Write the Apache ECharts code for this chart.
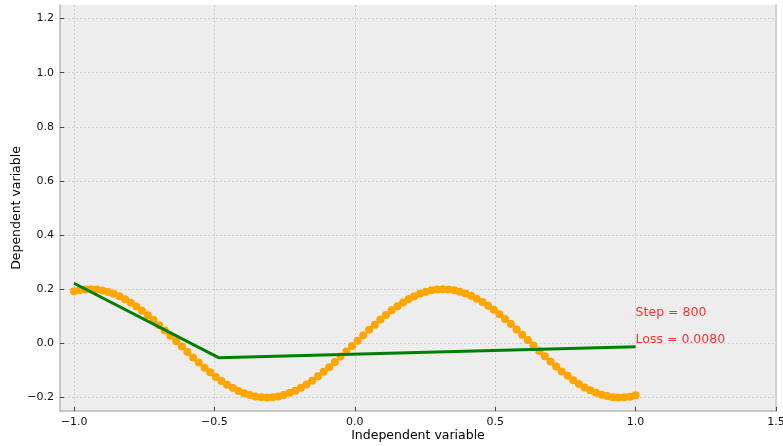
<!DOCTYPE html>
<html>
<head>
<meta charset="utf-8">
<script src="https://cdn.jsdelivr.net/npm/echarts@6/dist/echarts.min.js"></script>
<style>
  html, body { margin: 0; padding: 0; background: #fff; }
  #chart { width: 783px; height: 446px; }
</style>
</head>
<body>
<div id="chart"></div>
<script>
// scatter samples (x, y)
const pointX = [
  -1.000, -0.980, -0.960, -0.939, -0.919, -0.899, -0.879, -0.859, -0.838, -0.818,
  -0.798, -0.778, -0.758, -0.737, -0.717, -0.697, -0.677, -0.657, -0.636, -0.616,
  -0.596, -0.576, -0.556, -0.535, -0.515, -0.495, -0.475, -0.455, -0.434, -0.414,
  -0.394, -0.374, -0.354, -0.333, -0.313, -0.293, -0.273, -0.253, -0.232, -0.212,
  -0.192, -0.172, -0.152, -0.131, -0.111, -0.091, -0.071, -0.051, -0.030, -0.010,
  0.010, 0.030, 0.051, 0.071, 0.091, 0.111, 0.131, 0.152, 0.172, 0.192,
  0.212, 0.232, 0.253, 0.273, 0.293, 0.313, 0.333, 0.354, 0.374, 0.394,
  0.414, 0.434, 0.455, 0.475, 0.495, 0.515, 0.535, 0.556, 0.576, 0.596,
  0.616, 0.636, 0.657, 0.677, 0.697, 0.717, 0.737, 0.758, 0.778, 0.798,
  0.818, 0.838, 0.859, 0.879, 0.899, 0.919, 0.939, 0.960, 0.980, 1.000
]
const pointY = [
  0.192, 0.197, 0.199, 0.200, 0.199, 0.195, 0.190, 0.183, 0.174, 0.163,
  0.150, 0.136, 0.120, 0.104, 0.086, 0.067, 0.047, 0.028, 0.008, -0.012,
  -0.032, -0.052, -0.071, -0.090, -0.107, -0.124, -0.139, -0.153, -0.165, -0.176,
  -0.184, -0.191, -0.196, -0.199, -0.200, -0.199, -0.196, -0.191, -0.183, -0.175,
  -0.164, -0.152, -0.138, -0.122, -0.105, -0.088, -0.069, -0.049, -0.030, -0.010,
  0.010, 0.030, 0.050, 0.069, 0.088, 0.105, 0.122, 0.137, 0.151, 0.164,
  0.174, 0.183, 0.191, 0.196, 0.199, 0.200, 0.199, 0.196, 0.191, 0.184,
  0.176, 0.165, 0.153, 0.139, 0.124, 0.107, 0.090, 0.071, 0.051, 0.032,
  0.012, -0.008, -0.028, -0.048, -0.067, -0.086, -0.104, -0.120, -0.136, -0.150,
  -0.163, -0.173, -0.183, -0.190, -0.195, -0.199, -0.200, -0.199, -0.197, -0.192
]

// fitted line (prediction)
const fitX = [-1.0, -0.485, 1.0]
const fitY = [0.222, -0.053, -0.013]

const xTicks = [-1.0, -0.5, 0.0, 0.5, 1.0, 1.5]
const yTicks = [-0.2, 0.0, 0.2, 0.4, 0.6, 0.8, 1.0, 1.2]

const notes = [
  [1.0, 0.1, 'Step = 800'],
  [1.0, 0.0, 'Loss = 0.0080']
]

const fmt = v => v.toFixed(1).replace('-', '\u2212')

const chart = echarts.init(document.getElementById('chart'), null, { renderer: 'canvas' })

const axisCommon = {
  type: 'value',
  axisLine: { show: true, onZero: false, lineStyle: { color: '#b8b8b8', width: 1.5 } },
  axisTick: { show: true, inside: true, length: 4, lineStyle: { color: '#444' } },
  axisLabel: { color: '#111', fontSize: 11, fontFamily: 'DejaVu Sans', formatter: fmt },
  splitLine: { show: true, lineStyle: { color: '#c8c8c8', width: 0.8, type: [2, 2] } },
  nameLocation: 'middle',
  nameMoveOverlap: false,
  nameTextStyle: { color: '#000', fontSize: 12.5, fontFamily: 'DejaVu Sans' }
}

chart.setOption({
  animation: false,
  grid: {
    left: 60, right: 7, top: 5, bottom: 35,
    outerBoundsMode: 'none',
    containLabel: false,
    show: true, backgroundColor: '#ededed', borderWidth: 0
  },
  xAxis: [{
    ...axisCommon,
    min: -1.05, max: 1.5,
    name: 'Independent variable', nameGap: 18,
    axisTick: { ...axisCommon.axisTick, customValues: xTicks },
    axisLabel: { ...axisCommon.axisLabel, customValues: xTicks, margin: 6 }
  }],
  yAxis: [{
    ...axisCommon,
    min: -0.25, max: 1.25,
    name: 'Dependent variable', nameGap: 37,
    axisTick: { ...axisCommon.axisTick, customValues: yTicks },
    axisLabel: { ...axisCommon.axisLabel, customValues: yTicks, margin: 6 }
  }, {
    type: 'value', position: 'right', min: -0.25, max: 1.25,
    axisLine: { show: true, onZero: false, lineStyle: { color: '#c8c8c8', width: 1.5 } },
    axisTick: { show: false }, axisLabel: { show: false }, splitLine: { show: false }
  }],
  series: [
    {
      type: 'scatter',
      data: pointX.map((x, i) => [x, pointY[i]]),
      symbolSize: 8,
      itemStyle: { color: '#ffa500', opacity: 1 },
      z: 2
    },
    {
      type: 'line',
      data: fitX.map((x, i) => [x, fitY[i]]),
      showSymbol: false,
      lineStyle: { color: '#008000', width: 3 },
      z: 3
    },
    {
      type: 'scatter',
      data: notes,
      symbolSize: 0,
      label: {
        show: true,
        position: [0, 3],
        align: 'left',
        verticalAlign: 'bottom',
        formatter: p => p.data[2],
        color: '#ff0000',
        fontSize: 12.5,
        fontFamily: 'DejaVu Sans'
      },
      z: 4
    }
  ]
})
</script>
</body>
</html>
